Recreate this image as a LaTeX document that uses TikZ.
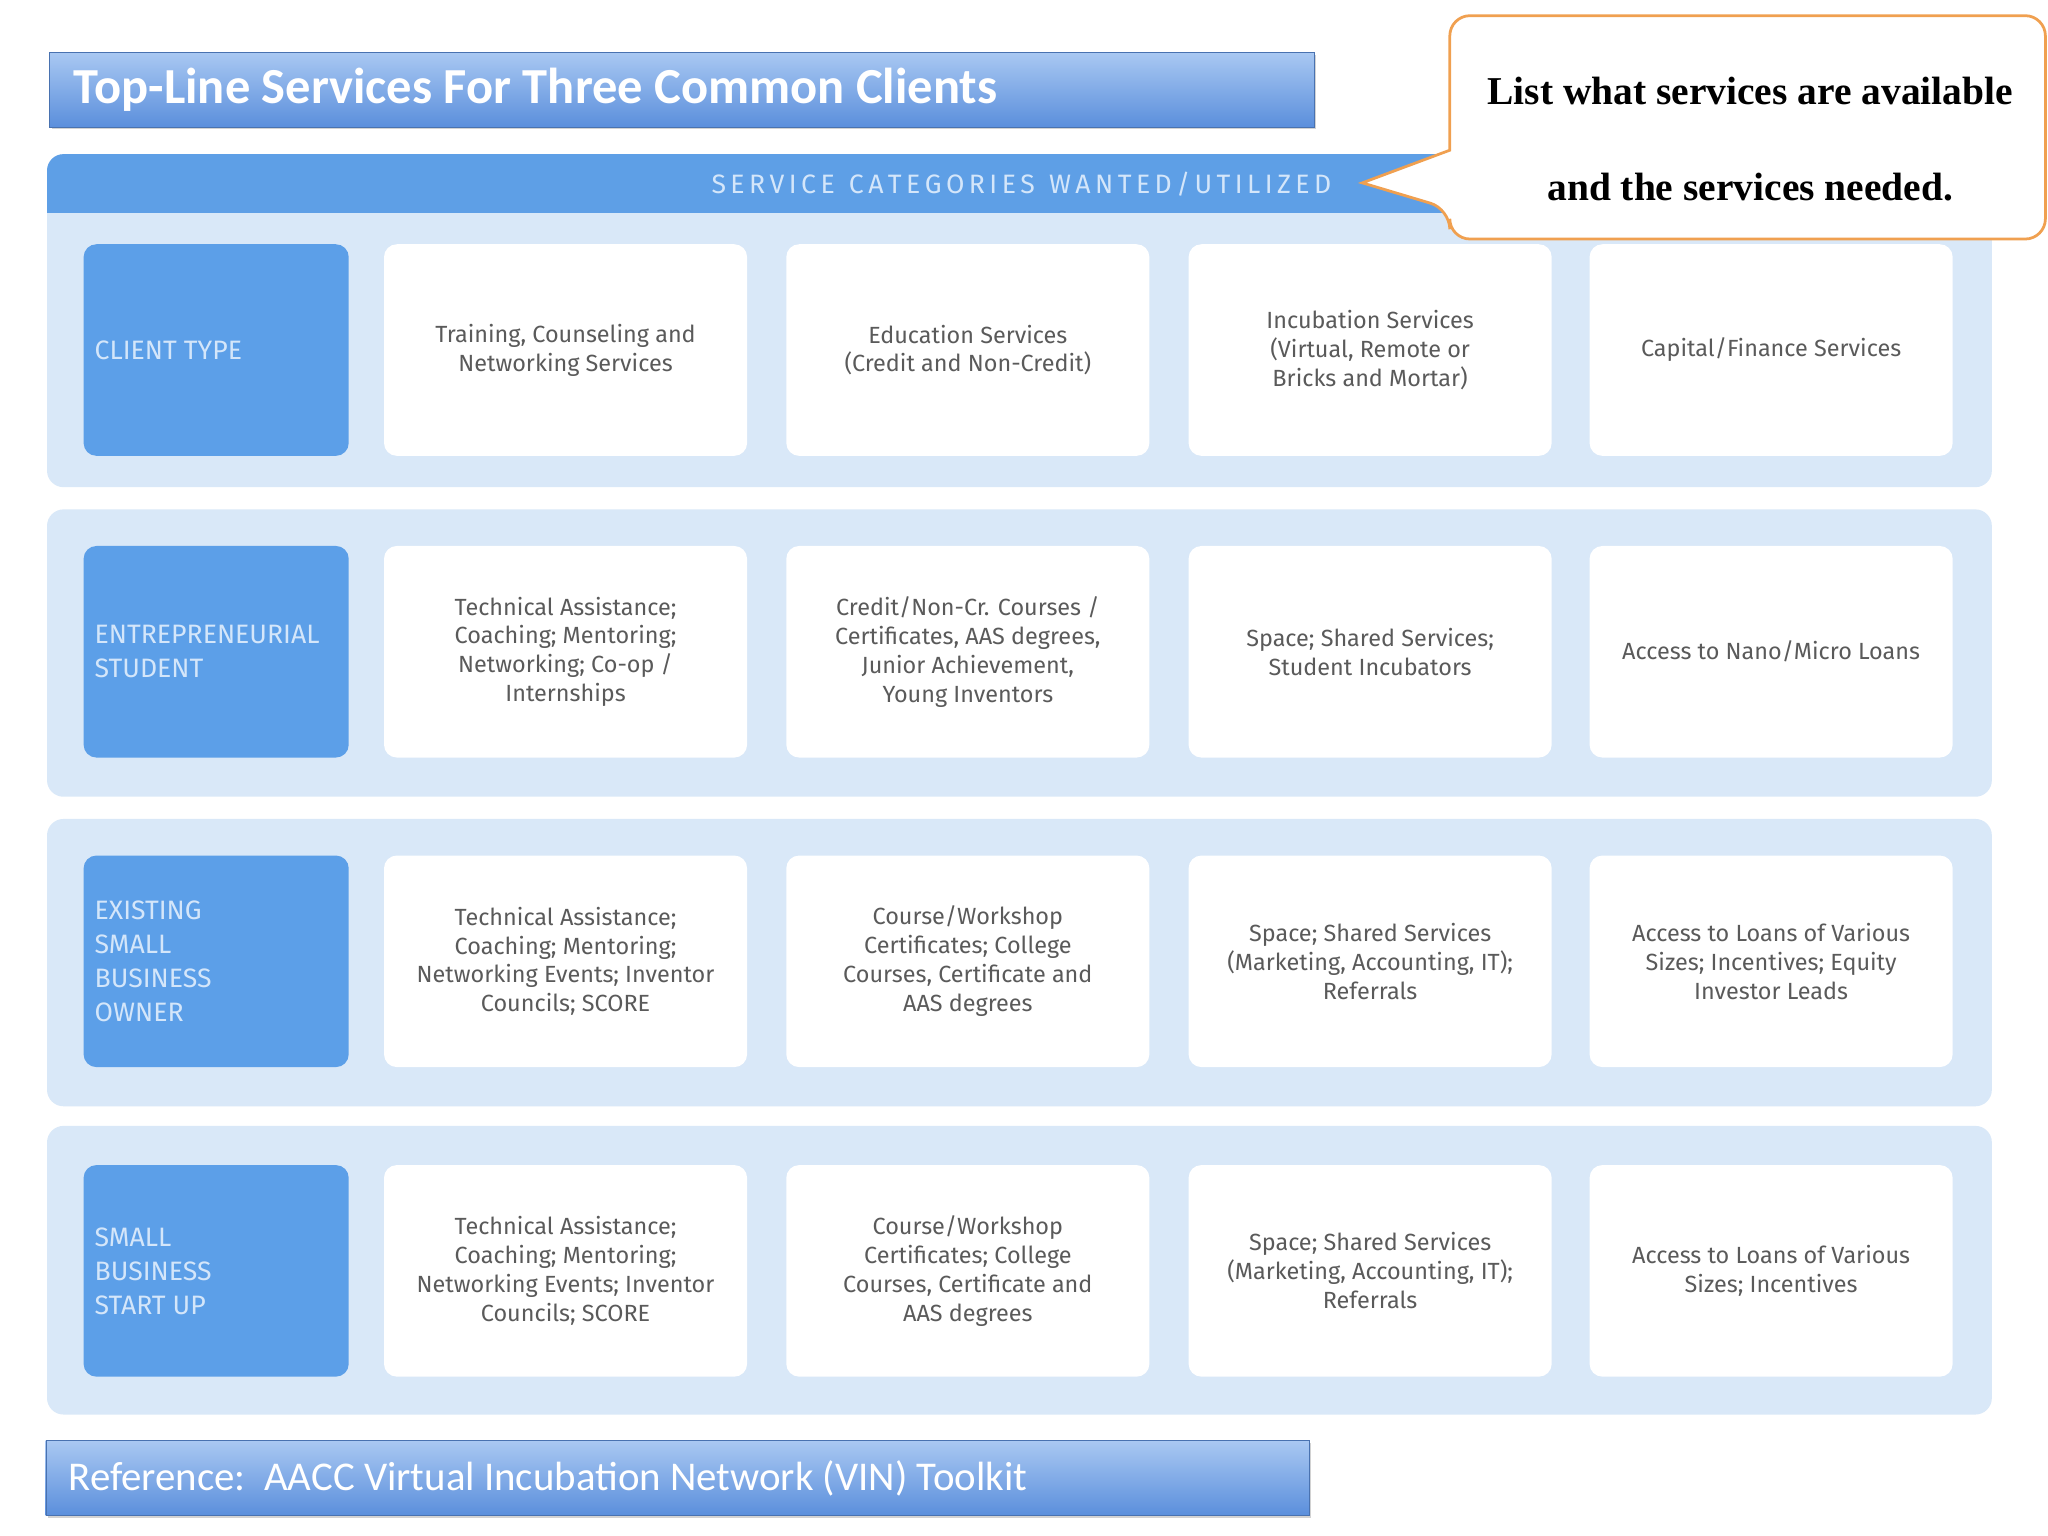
\documentclass[tikz,border=0pt]{standalone}
\usepackage{fontspec}
\setmainfont{Fira Sans}
\newfontfamily\calfont{Carlito}
\newfontfamily\serfont{Liberation Serif}
\usetikzlibrary{shadows}
\definecolor{panel}{HTML}{D9E8F8}
\definecolor{hdr}{HTML}{5E9FE6}
\definecolor{lcell}{HTML}{5C9FE8}
\definecolor{ltxt}{HTML}{D4E6FA}
\definecolor{ctxt}{HTML}{5A5A5A}
\definecolor{orng}{HTML}{F0A050}
\definecolor{barA}{HTML}{A9C8F2}
\definecolor{barB}{HTML}{5B8FDC}
\tikzset{
  bar/.style={draw=barB!80!black, top color=barA, bottom color=barB, drop shadow={opacity=0.35}},
  panelbox/.style={fill=panel, rounded corners=18},
  lt/.style={text=ltxt, anchor=west, align=left, font=\fontsize{29}{37}\selectfont},
  ct/.style={text=ctxt, align=center, font=\fontsize{25.5}{31.5}\selectfont},
}
\begin{document}
\begin{tikzpicture}[x=0.05cm,y=0.05cm]
\useasboundingbox[fill=white] (0,0) rectangle (1568,-1176);
% title
\path[bar] (38,-40) rectangle (1006,-97);
\node[anchor=west, text=white, font=\calfont\bfseries\fontsize{55}{58}\selectfont] (tt) at (54,-69) {Top-Line Services For Three Common Clients};
% panels
\fill[panelbox] (36,-118) rectangle (1525,-373);
\fill[hdr, rounded corners=18] (36,-118) rectangle (1525,-163);
\fill[hdr] (36,-145) rectangle (1525,-163);
\node[text=ltxt, font=\fontsize{29}{32}\selectfont] (hd) at (782,-141) {S\,E\,R\,V\,I\,C\,E \ C\,A\,T\,E\,G\,O\,R\,I\,E\,S \ W\,A\,N\,T\,E\,D\,/\,U\,T\,I\,L\,I\,Z\,E\,D};
\fill[panelbox] (36,-390) rectangle (1525,-610);
\fill[panelbox] (36,-627) rectangle (1525,-847);
\fill[panelbox] (36,-862) rectangle (1525,-1083);
% rows
\foreach \r/\yt/\yb in {1/187/349, 2/418/580, 3/655/817, 4/892/1054}{
  \fill[lcell, rounded corners=14] (64,-\yt) rectangle (267,-\yb);
  \foreach \c/\xl/\xr in {1/294/572, 2/602/880, 3/910/1188, 4/1217/1495}{
    \fill[white, rounded corners=14] (\xl,-\yt) rectangle (\xr,-\yb);
  }
}
\node[lt] (l1) at (70,-268) {CLIENT TYPE};
\node[lt] (l2) at (70,-499) {ENTREPRENEURIAL\\STUDENT};
\node[lt] (l3) at (70,-736) {EXISTING\\SMALL\\BUSINESS\\OWNER};
\node[lt] (l4) at (70,-973) {SMALL\\BUSINESS\\START UP};
% row 1
\node[ct] (a1) at (433,-268) {Training, Counseling and\\Networking Services};
\node[ct] (b1) at (741,-268) {Education Services\\(Credit and Non-Credit)};
\node[ct] (c1) at (1049,-268) {Incubation Services\\(Virtual, Remote or\\Bricks and Mortar)};
\node[ct] (d1) at (1356,-268) {Capital/Finance Services};
% row 2
\node[ct] (a2) at (433,-499) {Technical Assistance;\\Coaching; Mentoring;\\Networking; Co-op /\\Internships};
\node[ct] (b2) at (741,-499) {Credit/Non-Cr. Courses /\\Certificates, AAS degrees,\\Junior Achievement,\\Young Inventors};
\node[ct] (c2) at (1049,-499) {Space; Shared Services;\\Student Incubators};
\node[ct] (d2) at (1356,-499) {Access to Nano/Micro Loans};
% row 3
\node[ct] (a3) at (433,-736) {Technical Assistance;\\Coaching; Mentoring;\\Networking Events; Inventor\\Councils; SCORE};
\node[ct] (b3) at (741,-736) {Course/Workshop\\Certificates; College\\Courses, Certificate and\\AAS degrees};
\node[ct] (c3) at (1049,-736) {Space; Shared Services\\(Marketing, Accounting, IT);\\Referrals};
\node[ct] (d3) at (1356,-736) {Access to Loans of Various\\Sizes; Incentives; Equity\\Investor Leads};
% row 4
\node[ct] (a4) at (433,-973) {Technical Assistance;\\Coaching; Mentoring;\\Networking Events; Inventor\\Councils; SCORE};
\node[ct] (b4) at (741,-973) {Course/Workshop\\Certificates; College\\Courses, Certificate and\\AAS degrees};
\node[ct] (c4) at (1049,-973) {Space; Shared Services\\(Marketing, Accounting, IT);\\Referrals};
\node[ct] (d4) at (1356,-973) {Access to Loans of Various\\Sizes; Incentives};
% callout
\draw[orng, line width=3, fill=white, rounded corners=22]
  (1110,-115) -- (1110,-12) -- (1566,-12) -- (1566,-183) -- (1110,-183) -- (1110,-160) [sharp corners] -- (1043,-140) -- cycle;
\node[font=\serfont\bfseries\fontsize{43}{48}\selectfont] (co1) at (1340,-70) {List what services are available};
\node[font=\serfont\bfseries\fontsize{43}{48}\selectfont] (co2) at (1340,-143) {and the services needed.};
% footer
\path[bar] (35,-1103) rectangle (1002,-1160);
\node[anchor=west, text=white, font=\calfont\fontsize{44.5}{48}\selectfont] (ft) at (50,-1132) {Reference:\ \ AACC Virtual Incubation Network (VIN) Toolkit};
\end{tikzpicture}
\end{document}
